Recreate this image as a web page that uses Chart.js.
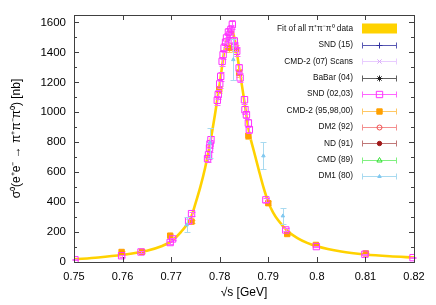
<!DOCTYPE html>
<html>
<head>
<meta charset="utf-8">
<script src="https://cdn.jsdelivr.net/npm/chart.js@4.4.0/dist/chart.umd.min.js"></script>
<style>
  body { margin: 0; background: #fff; }
  #wrap { width: 436px; height: 305px; position: relative; }
</style>
</head>
<body>
<div id="wrap"><canvas id="c"></canvas></div>
<script>
// fit curve
var fitX = [0.750, 0.755, 0.760, 0.765, 0.768, 0.770, 0.772, 0.774, 0.775, 0.776, 0.777, 0.778, 0.779, 0.780, 0.781, 0.782, 0.7825, 0.783, 0.784, 0.785, 0.786, 0.787, 0.788, 0.789, 0.790, 0.791, 0.792, 0.794, 0.796, 0.798, 0.800, 0.805, 0.810, 0.815, 0.820];
var fitY = [18, 30, 48, 75, 105, 138, 200, 290, 390, 500, 630, 790, 980, 1190, 1420, 1530, 1550, 1500, 1300, 1090, 875, 745, 620, 500, 400, 330, 280, 205, 160, 128, 105, 70, 50, 38, 30];

// SND (02,03)
var sndX = [0.7502, 0.7598, 0.7638, 0.7698, 0.7703, 0.7736, 0.7742, 0.7775, 0.7777, 0.7779, 0.7780, 0.7782, 0.7795, 0.7797, 0.7800, 0.7802, 0.7805, 0.7807, 0.7809, 0.7812, 0.7814, 0.7818, 0.7821, 0.7823, 0.7826, 0.7830, 0.7831, 0.7835, 0.7840, 0.7842, 0.7851, 0.7852, 0.7855, 0.7859, 0.7861, 0.7895, 0.7936, 0.7999, 0.8099, 0.8198];
var sndY = [15, 42, 67, 130, 154, 275, 323, 690, 716, 761, 788, 817, 1080, 1118, 1190, 1240, 1340, 1385, 1430, 1468, 1497, 1535, 1520, 1553, 1586, 1475, 1441, 1408, 1296, 1230, 1084, 1017, 984, 928, 884, 415, 214, 103, 52, 29];
var sndErr = [4, 6, 6, 8, 8, 12, 14, 25, 25, 25, 25, 25, 30, 30, 30, 30, 30, 30, 30, 30, 30, 30, 30, 30, 30, 30, 30, 30, 30, 30, 28, 28, 25, 25, 25, 14, 10, 6, 4, 3];

// CMD-2 (95,98,00)
var cmd2X = [0.7598, 0.7640, 0.7698, 0.7742, 0.7799, 0.7819, 0.7833, 0.7840, 0.7859, 0.7900, 0.7939, 0.7998, 0.8101];
var cmd2Y = [67, 68, 176, 270, 1151, 1430, 1420, 1263, 843, 393, 187, 114, 57];
var cmd2Err = [5, 5, 8, 12, 25, 30, 30, 28, 22, 12, 8, 5, 3];

// DM1 (80)
var dm1X = [0.7732, 0.7780, 0.7828, 0.7890, 0.7930];
var dm1Y = [248, 796, 1352, 709, 308];
var dm1Err = [50, 100, 135, 90, 55];

var yTicks = [0, 200, 400, 600, 800, 1000, 1200, 1400, 1600];
var xTicks = [0.75, 0.76, 0.77, 0.78, 0.79, 0.80, 0.81, 0.82];

function pts(xs, ys) {
  return xs.map(function (x, i) { return { x: x, y: ys[i] }; });
}

function series(label, xs, ys, errs, style, radius, color, errColor, filled, order) {
  return {
    label: label,
    data: pts(xs, ys),
    errors: errs,
    errColor: errColor,
    pointStyle: style,
    pointRadius: radius,
    pointHoverRadius: radius,
    pointBorderWidth: 1,
    borderColor: color,
    backgroundColor: filled ? color : 'rgba(0,0,0,0)',
    showLine: false,
    order: order
  };
}

var FONT = '"Liberation Sans", Arial, sans-serif';

var errorBars = {
  id: 'errorBars',
  beforeDatasetDraw: function (chart, args) {
    var ds = chart.data.datasets[args.index];
    if (!ds.errors) return;
    var ctx = chart.ctx, ys = chart.scales.y;
    ctx.save();
    ctx.strokeStyle = ds.errColor;
    ctx.lineWidth = 1;
    args.meta.data.forEach(function (pt, i) {
      var v = ds.data[i].y, e = ds.errors[i];
      var px = Math.round(pt.x) + 0.5;
      var top = Math.round(ys.getPixelForValue(v + e)) + 0.5;
      var bot = Math.round(ys.getPixelForValue(v - e)) + 0.5;
      ctx.beginPath();
      ctx.moveTo(px, top); ctx.lineTo(px, bot);
      ctx.moveTo(px - 3, top); ctx.lineTo(px + 3, top);
      ctx.moveTo(px - 3, bot); ctx.lineTo(px + 3, bot);
      ctx.stroke();
    });
    ctx.restore();
  }
};

// gnuplot style frame with inward ticks + key
var frame = {
  id: 'frame',
  afterDraw: function (chart) {
    var ctx = chart.ctx, a = chart.chartArea;
    var xs = chart.scales.x, ys = chart.scales.y;
    ctx.save();
    ctx.strokeStyle = '#404040';
    ctx.lineWidth = 1;
    ctx.strokeRect(Math.round(a.left) + 0.5, Math.round(a.top) + 0.5, Math.round(a.right - a.left), Math.round(a.bottom - a.top));
    ctx.beginPath();
    xTicks.forEach(function (t) {
      var px = Math.round(xs.getPixelForValue(t)) + 0.5;
      ctx.moveTo(px, a.bottom); ctx.lineTo(px, a.bottom - 5);
      ctx.moveTo(px, a.top); ctx.lineTo(px, a.top + 5);
    });
    for (var v = 0; v <= 1600; v += 100) {
      var len = v % 200 === 0 ? 5 : 3;
      var py = Math.round(ys.getPixelForValue(v)) + 0.5;
      ctx.moveTo(a.left, py); ctx.lineTo(a.left + len, py);
      ctx.moveTo(a.right, py); ctx.lineTo(a.right - len, py);
    }
    ctx.stroke();

    // key
    var rowY = 28.5, dy = 16.4, tx = 353, l0 = 362, l1 = 397, mx = 379.5;
    ctx.font = '8.3px ' + FONT;
    ctx.textAlign = 'right';
    ctx.textBaseline = 'middle';
    chart.data.datasets.forEach(function (ds, i) {
      var y = rowY + i * dy;
      ctx.fillStyle = '#111';
      ctx.fillText(ds.label, tx, y);
      if (ds.isFit) {
        ctx.fillStyle = ds.borderColor;
        ctx.fillRect(l0, y - 5, l1 - l0, 10);
        return;
      }
      var yy = Math.round(y) + 0.5;
      ctx.strokeStyle = ds.errColor;
      ctx.beginPath();
      ctx.moveTo(l0, yy); ctx.lineTo(l1, yy);
      ctx.moveTo(l0 + 0.5, yy - 3); ctx.lineTo(l0 + 0.5, yy + 3);
      ctx.moveTo(l1 - 0.5, yy - 3); ctx.lineTo(l1 - 0.5, yy + 3);
      ctx.stroke();
      ctx.strokeStyle = ds.borderColor;
      ctx.fillStyle = ds.backgroundColor;
      ctx.lineWidth = 1;
      Chart.helpers.drawPoint(ctx, { pointStyle: ds.pointStyle, radius: ds.pointRadius, rotation: 0, borderWidth: 1 }, mx, yy);
    });
    ctx.restore();
  }
};

var datasets = [
  {
    label: 'Fit of all π\u207Aπ\u207Bπ\u2070 data',
    isFit: true,
    type: 'line',
    data: pts(fitX, fitY),
    borderColor: '#ffd200',
    backgroundColor: '#ffd200',
    borderWidth: 2.6,
    pointRadius: 0,
    showLine: true,
    cubicInterpolationMode: 'monotone',
    order: 20
  },
  series('SND (15)', [], [], [], 'cross', 3, '#3030a0', '#5a5ab4', false, 9),
  series('CMD-2 (07) Scans', [], [], [], 'crossRot', 3, '#d8a8f8', '#e8ccff', false, 8),
  series('BaBar (04)', [], [], [], 'star', 3, '#202020', '#606060', false, 7),
  series('SND (02,03)', sndX, sndY, sndErr, 'rect', 4.5, '#ff30ff', '#ff66ff', false, 5),
  series('CMD-2 (95,98,00)', cmd2X, cmd2Y, cmd2Err, 'rect', 3.8, '#ffa000', '#ffc864', true, 6),
  series('DM2 (92)', [], [], [], 'circle', 2.5, '#f05050', '#f49090', false, 4),
  series('ND (91)', [], [], [], 'circle', 2.2, '#a01818', '#c07878', true, 3),
  series('CMD (89)', [], [], [], 'triangle', 3, '#30e030', '#80f080', false, 2),
  series('DM1 (80)', dm1X, dm1Y, dm1Err, 'triangle', 2, '#80c8f0', '#a8daf0', true, 1)
];

new Chart(document.getElementById('c'), {
  type: 'scatter',
  data: { datasets: datasets },
  options: {
    responsive: true,
    maintainAspectRatio: false,
    animation: false,
    layout: { padding: { top: 15, right: 22, left: 0, bottom: 0 } },
    plugins: { legend: { display: false }, tooltip: { enabled: false } },
    scales: {
      x: {
        type: 'linear',
        min: 0.75,
        max: 0.82,
        afterBuildTicks: function (s) { s.ticks = xTicks.map(function (v) { return { value: v }; }); },
        afterFit: function (s) { s.height = 43; },
        grid: { display: false, drawTicks: false },
        border: { display: false },
        ticks: {
          padding: 8,
          color: '#000',
          font: { family: FONT, size: 11 },
          maxRotation: 0,
          callback: function (v) { return String(Number(v.toFixed(2))); }
        },
        title: { display: true, text: '\u221As [GeV]', color: '#000', font: { family: FONT, size: 12 }, padding: { top: 0, bottom: 5 } }
      },
      y: {
        type: 'linear',
        min: 0,
        max: 1650,
        afterBuildTicks: function (s) { s.ticks = yTicks.map(function (v) { return { value: v }; }); },
        afterFit: function (s) { s.width = 74; },
        grid: { display: false, drawTicks: false },
        border: { display: false },
        ticks: { padding: 8, color: '#000', font: { family: FONT, size: 11.5 }, callback: function (v) { return String(v); } },
        title: { display: true, text: 'σ\u2070(e\u207Ae\u207B \u2192 π\u207Aπ\u207Bπ\u2070) [nb]', color: '#000', font: { family: FONT, size: 12 }, padding: { top: 9, bottom: 0 } }
      }
    }
  },
  plugins: [errorBars, frame]
});
</script>
</body>
</html>
